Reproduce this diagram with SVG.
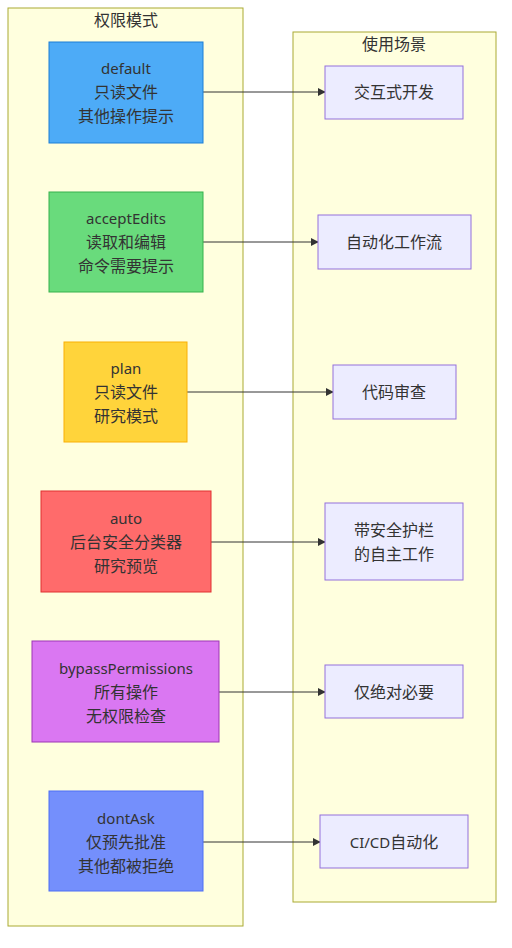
<svg xmlns="http://www.w3.org/2000/svg" width="512" height="948" viewBox="0 0 512 948">
<defs>
<marker id="arr" viewBox="0 0 10 10" refX="9" refY="5" markerWidth="8" markerHeight="8" markerUnits="userSpaceOnUse" orient="auto">
<path d="M0,0 L10,5 L0,10 z" fill="#333"/>
</marker>
</defs>
<style>
text{font-family:"Noto Sans","Noto Sans CJK SC",sans-serif;font-size:16px;fill:#333;text-anchor:middle;dominant-baseline:central}
text.l,tspan.l{font-size:15px}
.cl{fill:#ffffde;stroke:#aaaa33;stroke-width:1}
.sc{fill:#ececff;stroke:#9370db;stroke-width:1}
.e{stroke:#333;stroke-width:1;fill:none;marker-end:url(#arr)}
</style>
<rect width="512" height="948" fill="#fff"/>
<g id="cluster-modes"><rect class="cl" x="8" y="8" width="235" height="918"/><text x="126" y="20">权限模式</text></g>
<g id="cluster-uses"><rect class="cl" x="293" y="32" width="203" height="870"/><text x="394" y="44">使用场景</text></g>
<g id="edges">
<line class="e" x1="203" y1="92" x2="325" y2="92"/>
<line class="e" x1="203" y1="242" x2="318" y2="242"/>
<line class="e" x1="187" y1="392" x2="333" y2="392"/>
<line class="e" x1="211" y1="542" x2="325" y2="542"/>
<line class="e" x1="219" y1="692" x2="325" y2="692"/>
<line class="e" x1="203" y1="842" x2="320" y2="842"/>
</g>
<g id="default"><rect x="49" y="42" width="154" height="101" fill="#4dabf7" stroke="#1c7ed6"/><text class="l" x="126" y="68">default</text><text x="126" y="92">只读文件</text><text x="126" y="116">其他操作提示</text></g>
<g id="acceptEdits"><rect x="49" y="192" width="154" height="100" fill="#69db7c" stroke="#37b24d"/><text class="l" x="126" y="218">acceptEdits</text><text x="126" y="242">读取和编辑</text><text x="126" y="266">命令需要提示</text></g>
<g id="plan"><rect x="64" y="342" width="123" height="100" fill="#ffd43b" stroke="#fab005"/><text class="l" x="126" y="368">plan</text><text x="126" y="392">只读文件</text><text x="126" y="416">研究模式</text></g>
<g id="auto"><rect x="41" y="491" width="170" height="101" fill="#ff6b6b" stroke="#e03131"/><text class="l" x="126" y="518">auto</text><text x="126" y="542">后台安全分类器</text><text x="126" y="566">研究预览</text></g>
<g id="bypassPermissions"><rect x="32" y="641" width="187" height="101" fill="#da77f2" stroke="#9c36b5"/><text class="l" x="126" y="668">bypassPermissions</text><text x="126" y="692">所有操作</text><text x="126" y="716">无权限检查</text></g>
<g id="dontAsk"><rect x="49" y="791" width="154" height="100" fill="#748ffc" stroke="#4c6ef5"/><text class="l" x="126" y="818">dontAsk</text><text x="126" y="842">仅预先批准</text><text x="126" y="866">其他都被拒绝</text></g>
<g id="u1"><rect class="sc" x="325" y="66" width="138" height="53"/><text x="394" y="92">交互式开发</text></g>
<g id="u2"><rect class="sc" x="318" y="215" width="153" height="54"/><text x="394" y="242">自动化工作流</text></g>
<g id="u3"><rect class="sc" x="333" y="365" width="123" height="54"/><text x="394" y="392">代码审查</text></g>
<g id="u4"><rect class="sc" x="325" y="503" width="138" height="77"/><text x="394" y="530">带安全护栏</text><text x="394" y="554">的自主工作</text></g>
<g id="u5"><rect class="sc" x="325" y="665" width="138" height="53"/><text x="394" y="692">仅绝对必要</text></g>
<g id="u6"><rect class="sc" x="320" y="815" width="148" height="53"/><text x="394" y="842"><tspan class="l">CI/CD</tspan>自动化</text></g>
</svg>
